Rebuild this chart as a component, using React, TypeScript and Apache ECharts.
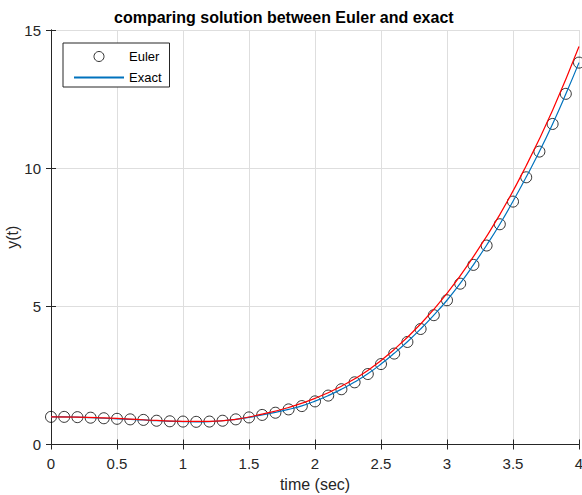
import React, { useEffect, useRef } from "react";
import * as echarts from "echarts";

const tValues = [0, 0.1, 0.2, 0.3, 0.4, 0.5, 0.6, 0.7, 0.8, 0.9, 1.0, 1.1, 1.2, 1.3, 1.4, 1.5, 1.6, 1.7, 1.8, 1.9, 2.0, 2.1, 2.2, 2.3, 2.4, 2.5, 2.6, 2.7, 2.8, 2.9, 3.0, 3.1, 3.2, 3.3, 3.4, 3.5, 3.6, 3.7, 3.8, 3.9, 4.0];
const eulerValues = [1.0, 1.0, 0.99, 0.97, 0.95, 0.93, 0.91, 0.89, 0.86, 0.84, 0.83, 0.82, 0.83, 0.86, 0.91, 0.98, 1.07, 1.15, 1.27, 1.39, 1.56, 1.77, 2.0, 2.25, 2.55, 2.91, 3.29, 3.71, 4.18, 4.68, 5.22, 5.82, 6.5, 7.2, 7.97, 8.79, 9.67, 10.6, 11.6, 12.69, 13.82];
const exactValues = [1.0, 1.0, 0.99, 0.97, 0.95, 0.93, 0.91, 0.89, 0.86, 0.84, 0.83, 0.82, 0.83, 0.86, 0.91, 0.98, 1.07, 1.16, 1.27, 1.4, 1.57, 1.77, 2.0, 2.26, 2.56, 2.91, 3.3, 3.72, 4.18, 4.68, 5.22, 5.83, 6.5, 7.21, 7.97, 8.8, 9.68, 10.6, 11.6, 12.68, 13.82];
const refT = [0, 0.2, 0.4, 0.6, 0.8, 1.0, 1.2, 1.4, 1.6, 1.8, 2.0, 2.2, 2.4, 2.6, 2.8, 3.0, 3.2, 3.4, 3.6, 3.8, 4.0];
const refValues = [1.0, 0.99, 0.96, 0.92, 0.87, 0.84, 0.84, 0.91, 1.1, 1.34, 1.67, 2.11, 2.68, 3.44, 4.36, 5.47, 6.8, 8.32, 10.09, 12.1, 14.4];

const FONT = "'Liberation Sans', Arial, Helvetica, sans-serif";
const AXIS_COLOR = "#262626";
const GRID_COLOR = "#dedede";
const BLUE = "#0072bd";

export default function App() {
  const ref = useRef<HTMLDivElement>(null);
  useEffect(() => {
    if (!ref.current) return;
    const chart = echarts.init(ref.current, undefined, { renderer: "svg" });
    const axisCommon = {
      axisLine: { show: true, lineStyle: { color: AXIS_COLOR, width: 1 } },
      axisTick: { show: true, inside: true, length: 5, lineStyle: { color: AXIS_COLOR } },
    };
    chart.setOption({
      animation: false,
      backgroundColor: "#ffffff",
      title: {
        text: "comparing solution between Euler and exact",
        left: 109,
        top: 4,
        textStyle: { fontFamily: FONT, fontSize: 16, fontWeight: "bold", color: "#000000" },
      },
      legend: {
        data: [
          { name: "Euler", icon: "circle", itemStyle: { color: "rgba(0,0,0,0)", borderColor: "#000000", borderWidth: 1 } },
          { name: "Exact" },
        ],
        orient: "vertical",
        left: 63,
        top: 43,
        itemWidth: 50,
        itemHeight: 10,
        itemGap: 8,
        padding: [7, 8, 3, 10],
        borderColor: AXIS_COLOR,
        borderWidth: 1,
        backgroundColor: "#ffffff",
        textStyle: { fontFamily: FONT, fontSize: 13, color: "#000000" },
      },
      grid: { left: 51, right: 3, top: 30, bottom: 50.5, containLabel: false, outerBoundsMode: "none" },
      xAxis: [
        {
          type: "value",
          min: 0,
          max: 4,
          interval: 0.5,
          name: "time (sec)",
          nameLocation: "middle",
          nameGap: 32,
          nameMoveOverlap: false,
          nameTextStyle: { fontFamily: FONT, fontSize: 16, color: AXIS_COLOR },
          ...axisCommon,
          axisLabel: { fontFamily: FONT, fontSize: 15, color: AXIS_COLOR, margin: 11 },
          splitLine: { show: true, lineStyle: { color: GRID_COLOR, width: 1 } },
        },
        {
          type: "value",
          position: "top",
          min: 0,
          max: 4,
          interval: 0.5,
          ...axisCommon,
          axisLabel: { show: false },
          splitLine: { show: false },
        },
      ],
      yAxis: [
        {
          type: "value",
          min: 0,
          max: 15,
          interval: 5,
          name: "y(t)",
          nameLocation: "middle",
          nameGap: 31,
          nameMoveOverlap: false,
          nameTextStyle: { fontFamily: FONT, fontSize: 16, color: AXIS_COLOR },
          ...axisCommon,
          axisLabel: { fontFamily: FONT, fontSize: 15, color: AXIS_COLOR, margin: 10 },
          splitLine: { show: true, lineStyle: { color: GRID_COLOR, width: 1 } },
        },
        {
          type: "value",
          position: "right",
          min: 0,
          max: 15,
          interval: 5,
          ...axisCommon,
          axisLabel: { show: false },
          splitLine: { show: false },
        },
      ],
      series: [
        {
          name: "Euler",
          type: "scatter",
          data: tValues.map((t, i) => [t, eulerValues[i]]),
          symbol: "circle",
          symbolSize: 11,
          itemStyle: { color: "rgba(0,0,0,0)", borderColor: "#000000", borderWidth: 1 },
          z: 2,
        },
        {
          name: "Exact",
          type: "line",
          data: tValues.map((t, i) => [t, exactValues[i]]),
          smooth: true,
          showSymbol: false,
          symbol: "circle",
          lineStyle: { color: BLUE, width: 1.2 },
          itemStyle: { color: "rgba(0,0,0,0)", borderWidth: 0 },
          z: 3,
        },
        {
          name: "reference",
          type: "line",
          data: refT.map((t, i) => [t, refValues[i]]),
          smooth: true,
          showSymbol: false,
          symbol: "none",
          lineStyle: { color: "#ff0000", width: 1.2 },
          itemStyle: { color: "#ff0000" },
          z: 4,
        },
      ],
    });
    return () => chart.dispose();
  }, []);
  return (
    <div
      ref={ref}
      style={{ position: "absolute", left: 0, top: 0, width: 582, height: 495 }}
    />
  );
}
